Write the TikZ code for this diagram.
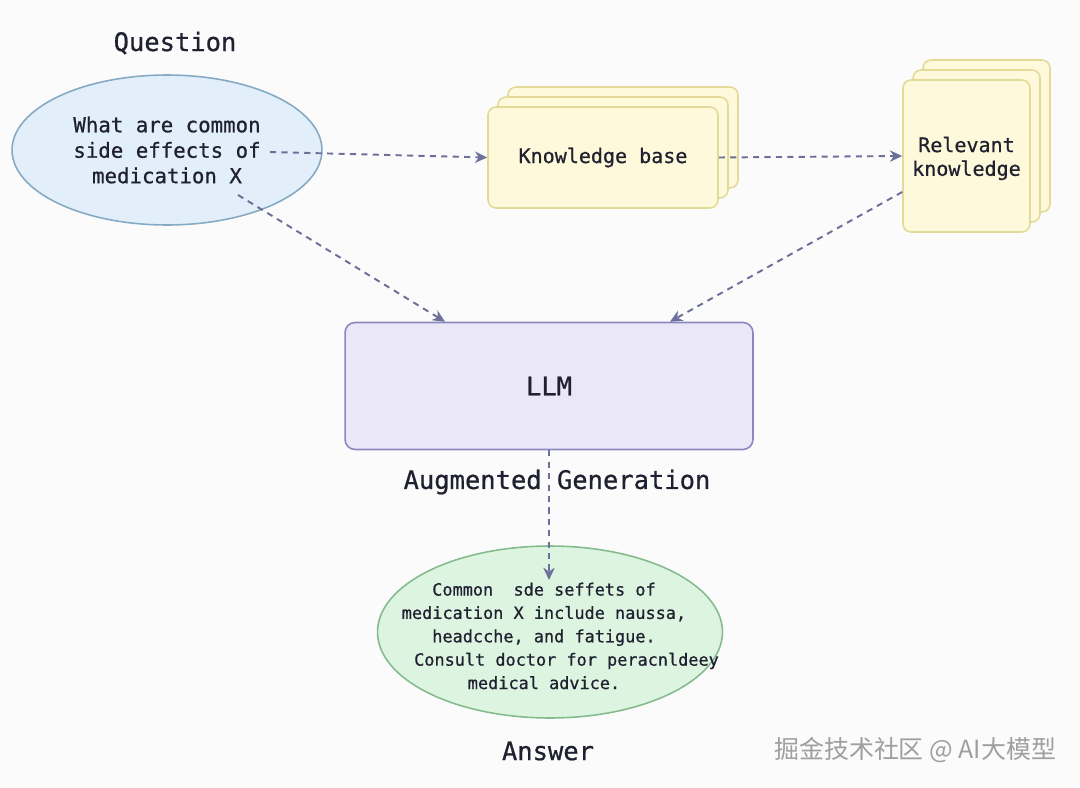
\documentclass[tikz,border=0pt]{standalone}
\usepackage{fontspec}
\setmainfont{DejaVu Sans Mono}[FakeBold=0.7]
\newfontfamily\cjk{Noto Sans CJK SC}
\usetikzlibrary{shapes,arrows,arrows.meta,positioning}
\definecolor{bgc}{HTML}{FBFBFB}
\definecolor{txtc}{HTML}{1F2130}
\definecolor{qfill}{HTML}{E2EEF9}
\definecolor{qline}{HTML}{86AAC4}
\definecolor{kfill}{HTML}{FEF9DA}
\definecolor{kline}{HTML}{E4DA98}
\definecolor{lfill}{HTML}{EAE7F8}
\definecolor{lline}{HTML}{8D87BF}
\definecolor{afill}{HTML}{DDF4E0}
\definecolor{aline}{HTML}{84BC8E}
\definecolor{arrowc}{HTML}{6C6F98}
\tikzstyle{arrow} = [line width=1.1pt, dash pattern=on 3.5pt off 3pt, ->, >={Stealth[length=7pt,width=6.5pt]}, draw=arrowc]

\begin{document}
\begin{tikzpicture}[x=0.02cm,y=-0.02cm]
\tikzset{title/.style={text=txtc,font=\fontsize{14.5}{17}\selectfont},
kbox/.style={draw=kline,fill=kfill,line width=0.9pt,rounded corners=0.16cm,inner sep=0pt},
body/.style={text=txtc,align=center,font=\fontsize{11.8}{14.5}\selectfont}}
\fill[bgc] (0,0) rectangle (1080,788);
\useasboundingbox (0,0) rectangle (1080,788);

% question
\node[title] (qlabel) at (175,43) {Question};
\node[ellipse,draw=qline,fill=qfill,line width=0.9pt,minimum width=6.2cm,minimum height=3cm,inner sep=0pt,body] (q) at (167,150) {What are common\\side effects of\\medication X};
\coordinate (qout) at (270,152);
\coordinate (qdown) at (238,195);

% knowledge base
\foreach \d in {2,1} {
\node[kbox,minimum width=4.6cm,minimum height=2.02cm] (kb\d) at (603+10*\d,157.5-10*\d) {}; }
\node[kbox,minimum width=4.6cm,minimum height=2.02cm,body,font=\fontsize{11.4}{14}\selectfont] (kb) at (603,157.5) {Knowledge base};

% relevant knowledge
\foreach \d in {2,1} {
\node[kbox,minimum width=2.54cm,minimum height=3.04cm] (rel\d) at (966.5+10*\d,156-10*\d) {}; }
\node[kbox,minimum width=2.54cm,minimum height=3.04cm,body,font=\fontsize{11.4}{13.5}\selectfont] (rel) at (966.5,156) {\\[-2pt]Relevant\\knowledge};

% llm
\node[draw=lline,fill=lfill,line width=0.9pt,rounded corners=0.2cm,minimum width=8.16cm,minimum height=2.54cm,title] (llm) at (549,386) {LLM};
\node[title] (aug) at (557,482) {Augmented Generation};

% answer
\node[ellipse,draw=aline,fill=afill,line width=0.9pt,minimum width=6.9cm,minimum height=3.44cm,inner sep=0pt] (ans) at (550,632) {};
\node[body,font=\fontsize{9.6}{13.3}\selectfont] (anstext) at (544,636) {Common\ \ sde seffets of\\medication X include naussa,\\headcche, and fatigue.\\\hspace*{0.9cm}Consult doctor for peracnldeey\\medical advice.};
\coordinate (ain) at (549,580);
\node[title] (alabel) at (548,751) {Answer};

\node[text=gray!75,font=\cjk\fontsize{14.2}{16}\selectfont,anchor=west] (mark) at (768,750) {掘金技术社区 @ AI大模型};

% arrows
\draw[arrow] (qout) -- (kb.west);
\draw[arrow] (kb.east) -- (rel.west);
\draw[arrow] (qdown) -- ([xshift=-2.08cm]llm.north);
\draw[arrow] ([yshift=-0.72cm]rel.west) -- ([xshift=2.42cm]llm.north);
\draw[arrow] (llm.south) -- (ain);

\end{tikzpicture}
\end{document}
